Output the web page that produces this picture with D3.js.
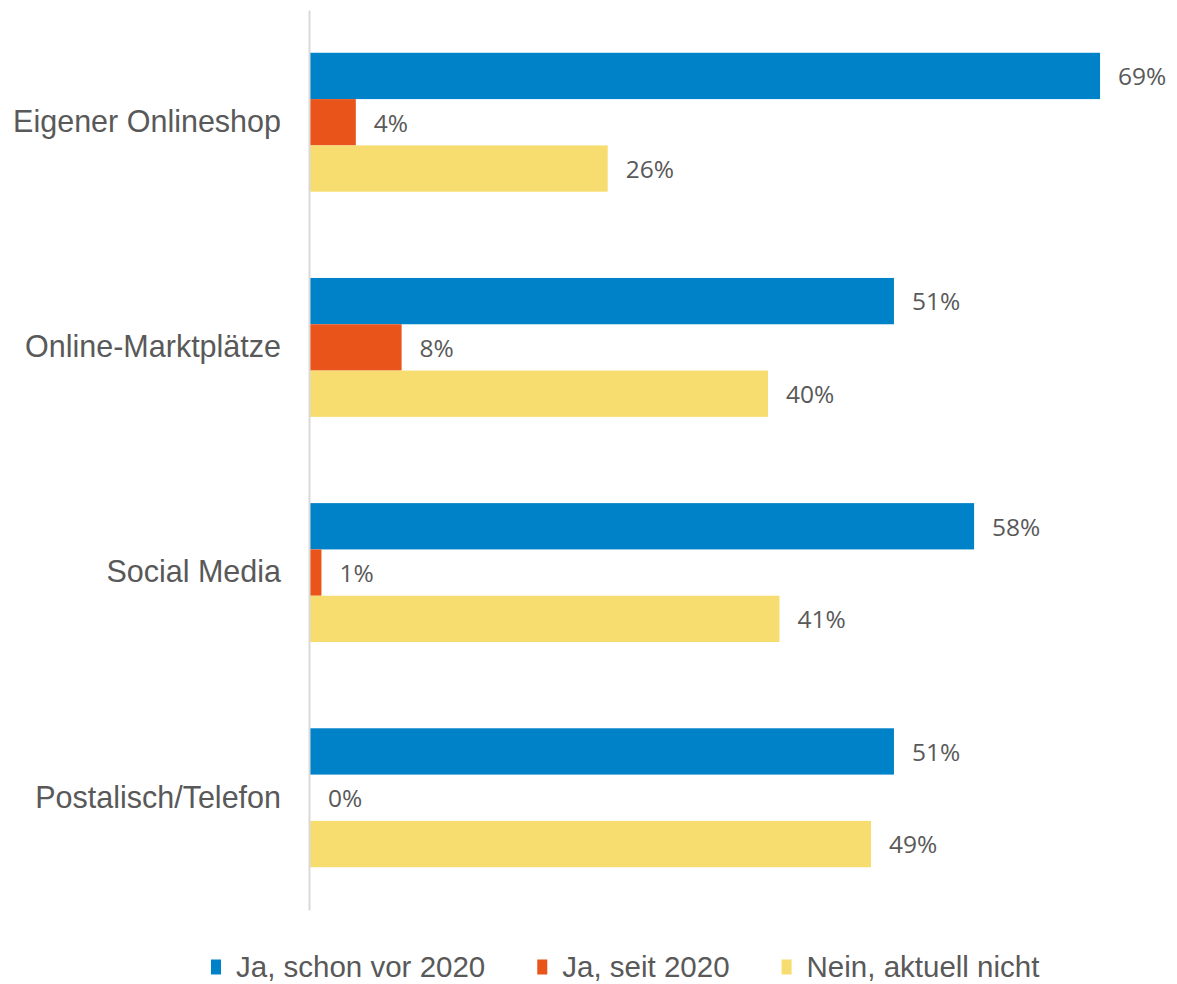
<!DOCTYPE html>
<html>
<head>
<meta charset="utf-8">
<script src="https://cdn.jsdelivr.net/npm/d3@7"></script>
<style>
  html, body { margin: 0; padding: 0; background: #fff; }
  svg { display: block; }
</style>
</head>
<body>
<svg id="chart" width="1177" height="984"></svg>
<script>
const categories = ["Eigener Onlineshop", "Online-Marktplätze", "Social Media", "Postalisch/Telefon"];
const seriesNames = ["Ja, schon vor 2020", "Ja, seit 2020", "Nein, aktuell nicht"];
const seriesColors = ["#0082C8", "#E8541A", "#F7DC6F"];
const vorValues = [0.69, 0.51, 0.58, 0.51];
const seitValues = [0.04, 0.08, 0.01, 0.00];
const neinValues = [0.26, 0.40, 0.41, 0.49];

const seriesValues = [vorValues, seitValues, neinValues];
const rows = [];
categories.forEach((c, i) => {
  seriesNames.forEach((s, j) => rows.push({cat: c, series: s, idx: j, value: seriesValues[j][i]}));
});

const svg = d3.select("#chart");
const textColor = "#595959";

const x = d3.scaleLinear().domain([0, 0.8]).range([310, 310 + 0.8 * 1145]);
const y = d3.scaleBand().domain(categories).range([10, 910]).paddingInner(0.383).paddingOuter(0.19);
const ySub = d3.scaleBand().domain(seriesNames).range([0, y.bandwidth()]);
const color = d3.scaleOrdinal().domain(seriesNames).range(seriesColors);

// bars
svg.append("g").selectAll("rect").data(rows).join("rect")
  .attr("x", x(0))
  .attr("y", d => y(d.cat) + ySub(d.series))
  .attr("width", d => x(d.value) - x(0))
  .attr("height", ySub.bandwidth())
  .attr("fill", d => color(d.series));

// value labels
svg.append("g").selectAll("text").data(rows).join("text")
  .attr("x", d => x(d.value) + 18)
  .attr("y", d => y(d.cat) + ySub(d.series) + ySub.bandwidth() / 2)
  .attr("dy", "0.38em")
  .attr("font-family", "'Open Sans', sans-serif")
  .attr("font-size", 24.5)
  .attr("fill", textColor)
  .text(d => d3.format(".0%")(d.value));

// category axis
const yAxis = d3.axisLeft(y).tickSize(0).tickPadding(28);
const gAxis = svg.append("g").attr("transform", `translate(${x(0) - 1},0)`).call(yAxis);
gAxis.select(".domain").attr("stroke", "#d9d9d9").attr("stroke-width", 2);
gAxis.selectAll(".tick text")
  .attr("font-family", "'Liberation Sans', Arial, sans-serif")
  .attr("font-size", 30.5)
  .attr("fill", textColor);

// legend
const legend = svg.append("g").attr("transform", "translate(0,966)");
let lx = 211;
seriesNames.forEach((s, j) => {
  const g = legend.append("g").attr("transform", `translate(${lx},0)`);
  g.append("rect").attr("x", 0).attr("y", -6.5).attr("width", 10).attr("height", 15).attr("fill", seriesColors[j]);
  const t = g.append("text").attr("x", 25).attr("y", 0).attr("dy", "0.36em")
    .attr("font-family", "'Liberation Sans', Arial, sans-serif")
    .attr("font-size", 29.5)
    .attr("fill", textColor)
    .text(s);
  lx += 25 + t.node().getComputedTextLength() + 52;
});
</script>
</body>
</html>
